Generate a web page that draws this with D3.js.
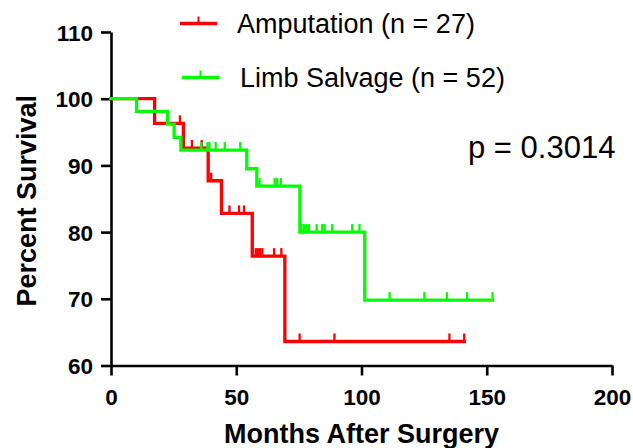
<!DOCTYPE html>
<html>
<head>
<meta charset="utf-8">
<script src="https://cdn.jsdelivr.net/npm/d3@7"></script>
<style>
  html, body { margin: 0; padding: 0; background: #fff; }
  svg { display: block; font-family: "Liberation Sans", Arial, sans-serif; }
</style>
</head>
<body>
<svg id="chart" width="633" height="448"></svg>
<script>
// ---- Data ----
const xTicks = [0, 50, 100, 150, 200];
const yTicks = [60, 70, 80, 90, 100, 110];

// Amputation (n = 27): step times (months) and survival (%)
const ampTime = [0, 17.4, 28.9, 38.8, 44.1, 56.4, 69.4, 141.0];
const ampSurv = [100, 96.3, 92.6, 87.7, 82.8, 76.4, 63.6, 63.6];
const ampCensor = [27.5, 32.3, 36.2, 40.0, 47.3, 51.1, 53.1, 57.8, 58.6, 59.5, 60.4, 65.1, 68.0, 75.3, 89.2, 135.1, 141.0];

// Limb Salvage (n = 52)
const limbTime = [0, 10.2, 22.6, 25.2, 27.9, 54.2, 58.2, 75.4, 101.3, 152.3];
const limbSurv = [100, 98.1, 96.2, 94.2, 92.3, 89.5, 86.9, 80.0, 69.8, 69.8];
const limbCensor = [36.0, 38.5, 39.3, 41.8, 45.4, 51.6, 59.3, 65.3, 66.3, 67.8, 76.0, 77.0, 78.0, 79.0, 82.1, 84.3, 85.3, 88.3, 96.3, 99.2, 111.2, 125.1, 134.1, 142.1, 152.3];

const seriesNames = ["Amputation (n = 27)", "Limb Salvage (n = 52)"];
const seriesColors = ["#ff0000", "#00ff00"];
const pText = "p = 0.3014";

// ---- Layout ----
const svg = d3.select("#chart");
const x = d3.scaleLinear().domain([0, 200]).range([111, 612]);
const y = d3.scaleLinear().domain([60, 110]).range([365.5, 32]);

// axes
const xAxis = svg.append("g").attr("transform", `translate(0,${y(60)})`)
  .call(d3.axisBottom(x).tickValues(xTicks).tickSize(10).tickPadding(8).tickSizeOuter(0));
const yAxis = svg.append("g").attr("transform", `translate(${x(0)},0)`)
  .call(d3.axisLeft(y).tickValues(yTicks).tickSize(10).tickPadding(8).tickSizeOuter(0));
[xAxis, yAxis].forEach(g => {
  g.select(".domain").attr("stroke", "#000").attr("stroke-width", 2.6);
  g.selectAll(".tick line").attr("stroke", "#000").attr("stroke-width", 2.6);
  g.selectAll(".tick text").attr("fill", "#000")
    .style("font-size", "22.5px").style("font-weight", "bold")
    .style("font-family", '"Liberation Sans", Arial, sans-serif');
});
xAxis.selectAll(".tick text").attr("dy", "0.95em");
yAxis.selectAll(".tick text").attr("dy", "0.36em");

// axis titles
svg.append("text").attr("x", x(100)).attr("y", 443).attr("text-anchor", "middle")
  .style("font-size", "27px").style("font-weight", "bold").text("Months After Surgery");
svg.append("text").attr("transform", `translate(36,${(y(60) + y(110)) / 2 + 2}) rotate(-90)`)
  .attr("text-anchor", "middle")
  .style("font-size", "27px").style("font-weight", "bold").text("Percent Survival");

// survival curves
function survAt(times, surv, t) {
  const i = d3.bisectRight(times, t) - 1;
  return surv[Math.max(0, i)];
}
const line = d3.line().x(d => x(d[0])).y(d => y(d[1])).curve(d3.curveStepAfter);
const series = [
  { time: ampTime, surv: ampSurv, censor: ampCensor, color: seriesColors[0] },
  { time: limbTime, surv: limbSurv, censor: limbCensor, color: seriesColors[1] }
];
series.forEach(s => {
  const g = svg.append("g");
  g.append("path").datum(d3.zip(s.time, s.surv))
    .attr("d", line).attr("fill", "none").attr("stroke", s.color)
    .attr("stroke-width", 3.3).attr("stroke-linejoin", "miter").attr("stroke-linecap", "square");
  g.selectAll("line.c").data(s.censor).join("line")
    .attr("x1", d => x(d)).attr("x2", d => x(d))
    .attr("y1", d => y(survAt(s.time, s.surv, d)))
    .attr("y2", d => y(survAt(s.time, s.surv, d)) - 8)
    .attr("stroke", s.color).attr("stroke-width", 2.3);
});

// legend
const legendY = [23.5, 77.5];
const legendTextX = [237, 240];
const legendLineX = [180, 182];
seriesNames.forEach((name, i) => {
  const lg = svg.append("g");
  lg.append("line").attr("x1", legendLineX[i]).attr("x2", legendLineX[i] + 37)
    .attr("y1", legendY[i]).attr("y2", legendY[i])
    .attr("stroke", seriesColors[i]).attr("stroke-width", 3.3);
  lg.append("line").attr("x1", legendLineX[i] + 18.5).attr("x2", legendLineX[i] + 18.5)
    .attr("y1", legendY[i]).attr("y2", legendY[i] - 7)
    .attr("stroke", seriesColors[i]).attr("stroke-width", 2);
  lg.append("text").attr("x", legendTextX[i]).attr("y", legendY[i] + 9.5)
    .style("font-size", "27px").attr("fill", "#000").text(name);
});

// p value
svg.append("text").attr("x", 468).attr("y", 157.5)
  .style("font-size", "31px").attr("fill", "#000").text(pText);
</script>
</body>
</html>
